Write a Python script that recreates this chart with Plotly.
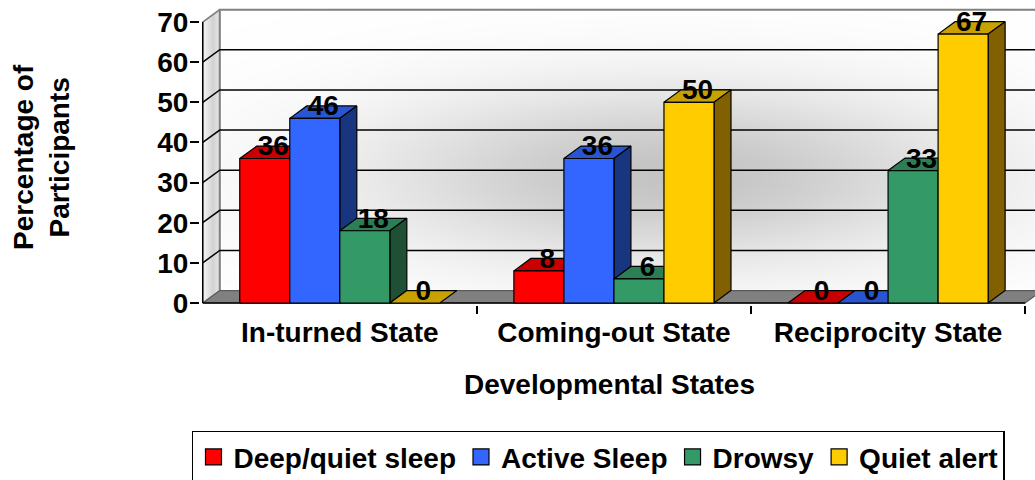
import numpy as np
import plotly.graph_objects as go

# data
categories = ["In-turned State", "Coming-out State", "Reciprocity State"]
series_names = ["Deep/quiet sleep", "Active Sleep", "Drowsy", "Quiet alert"]
deep_quiet_sleep = [36, 8, 0]
active_sleep = [46, 36, 0]
drowsy = [18, 6, 33]
quiet_alert = [0, 50, 67]
y_ticks = [0, 10, 20, 30, 40, 50, 60, 70]

series_values = [deep_quiet_sleep, active_sleep, drowsy, quiet_alert]
front_colors = ["#FF0000", "#3366FF", "#339966", "#FFCC00"]
top_colors = ["#C80000", "#2A55D0", "#2C7F55", "#C8A000"]
side_colors = ["#800000", "#1A3580", "#1F5036", "#806000"]

FONT = "Liberation Sans, Arial, sans-serif"
BAR_W = 0.1825          # bar width in category units
GAP = (1 - len(series_names) * BAR_W) / 2
DX, DY = 0.062, 3.1     # fake 3d depth offset (x units, value units)
n_cat = len(categories)
y_top = y_ticks[-1]
X_MAX = 3.036

fig = go.Figure()

# back wall shading
gx = np.linspace(DX, n_cat + DX, 90)
gy = np.linspace(DY, y_top + DY, 45)
GX, GY = np.meshgrid(gx, gy)
shade = np.exp(-((GX - 1.7) / 1.1) ** 2 - ((GY - 32) / 22) ** 2)
fig.add_trace(go.Heatmap(
    x=gx, y=gy, z=shade, zsmooth="best", showscale=False, hoverinfo="skip",
    colorscale=[[0, "#ffffff"], [1, "#c4c4c4"]], zmin=0, zmax=1
))

# left wall
fig.add_trace(go.Scatter(
    x=[0, 0, DX, DX, 0], y=[0, y_top, y_top + DY, DY, 0],
    mode="lines", fill="toself", line=dict(color="#909090", width=1.2),
    fillgradient=dict(type="horizontal",
                      colorscale=[[0, "#f6f6f6"], [0.6, "#d2d2d2"], [1, "#e6e6e6"]]),
    hoverinfo="skip", showlegend=False
))

# back wall outline
fig.add_trace(go.Scatter(
    x=[DX, DX, n_cat + DX], y=[DY, y_top + DY, y_top + DY],
    mode="lines", line=dict(color="#808080", width=2),
    hoverinfo="skip", showlegend=False
))

# gridlines: along the back wall and across the side wall
gxs, gys = [], []
for v in y_ticks[1:-1]:
    gxs += [0, DX, n_cat + DX, None]
    gys += [v, v + DY, v + DY, None]
fig.add_trace(go.Scatter(
    x=gxs, y=gys, mode="lines", line=dict(color="black", width=1.5),
    hoverinfo="skip", showlegend=False
))
fig.add_trace(go.Scatter(
    x=[0, DX], y=[y_top, y_top + DY], mode="lines",
    line=dict(color="#808080", width=1.5), hoverinfo="skip", showlegend=False
))

# floor
fig.add_trace(go.Scatter(
    x=[0, n_cat, n_cat + DX, DX, 0], y=[0, 0, DY, DY, 0],
    mode="lines", fill="toself", fillcolor="#808080",
    line=dict(color="#5a5a5a", width=1.2), hoverinfo="skip", showlegend=False
))
fig.add_trace(go.Scatter(
    x=[0, n_cat], y=[0, 0], mode="lines", line=dict(color="black", width=1.5),
    hoverinfo="skip", showlegend=False
))
fig.add_trace(go.Scatter(
    x=[0, 0], y=[0, y_top], mode="lines", line=dict(color="black", width=1.5),
    hoverinfo="skip", showlegend=False
))


def face(xs, ys, color):
    fig.add_trace(go.Scatter(
        x=xs, y=ys, mode="lines", fill="toself", fillcolor=color,
        line=dict(color="black", width=1.2), hoverinfo="skip", showlegend=False
    ))


lab_x, lab_y, lab_t = [], [], []
for i in range(n_cat):
    for j, vals in enumerate(series_values):
        h = vals[i]
        x0 = i + GAP + j * BAR_W
        x1 = x0 + BAR_W
        face([x0, x1, x1 + DX, x0 + DX, x0], [h, h, h + DY, h + DY, h], top_colors[j])
        if h > 0:
            face([x1, x1 + DX, x1 + DX, x1, x1], [0, DY, h + DY, h, 0], side_colors[j])
            face([x0, x1, x1, x0, x0], [0, 0, h, h, 0], front_colors[j])
        lab_x.append((x0 + x1) / 2 + DX / 2)
        lab_y.append(h + DY - 0.6)
        lab_t.append(str(h))

fig.add_trace(go.Scatter(
    x=lab_x, y=lab_y, text=lab_t, mode="text", textposition="middle center",
    textfont=dict(family=FONT, size=28, color="black", weight="bold"),
    cliponaxis=False, hoverinfo="skip", showlegend=False
))

# legend entries
for name, c in zip(series_names, front_colors):
    fig.add_trace(go.Scatter(
        x=[None], y=[None], mode="markers", name=name,
        marker=dict(symbol="square", size=17, color=c, line=dict(color="black", width=1.2))
    ))

fig.update_layout(
    width=1035, height=480,
    margin=dict(l=200, r=0, t=2, b=175, autoexpand=False),
    paper_bgcolor="white", plot_bgcolor="white",
    font=dict(family=FONT, color="black"),
    showlegend=True,
    legend=dict(
        orientation="h", x=-0.0096, y=-0.415, xanchor="left", yanchor="top",
        font=dict(family=FONT, size=28, weight="bold"),
        bordercolor="black", borderwidth=1.5, bgcolor="white",
        itemwidth=30, tracegroupgap=0
    ),
    xaxis=dict(
        range=[-0.01, X_MAX], showgrid=False, zeroline=False, showline=False,
        tickmode="array", tickvals=[i + 0.5 for i in range(n_cat)], ticktext=categories,
        ticks="", ticklabelstandoff=8,
        tickfont=dict(family=FONT, size=28, weight="bold"),
        minor=dict(tickmode="array", tickvals=list(range(1, n_cat + 1)), ticks="outside",
                   ticklen=8, tickwidth=1.5, tickcolor="black")
    ),
    yaxis=dict(
        range=[-0.5, 75], showgrid=False, zeroline=False, showline=False,
        tickmode="array", tickvals=y_ticks, ticks="outside", ticklen=9,
        tickwidth=1.5, tickcolor="black", ticklabelstandoff=-4,
        tickfont=dict(family=FONT, size=28, weight="bold")
    ),
    annotations=[
        dict(text="Percentage of<br>Participants", xref="paper", yref="paper",
             x=-0.19, y=0.49, xanchor="center", yanchor="middle", textangle=-90,
             showarrow=False, font=dict(family=FONT, size=28, weight="bold")),
        dict(text="Developmental States", xref="paper", yref="paper",
             x=0.49, y=-0.262, xanchor="center", yanchor="middle",
             showarrow=False, font=dict(family=FONT, size=28, weight="bold")),
    ]
)

# page body has a default margin; drop it so the figure sits at the window corner
fig.write_html("out.html", config={"displayModeBar": False},
               post_script="document.body.style.margin='0px';")
